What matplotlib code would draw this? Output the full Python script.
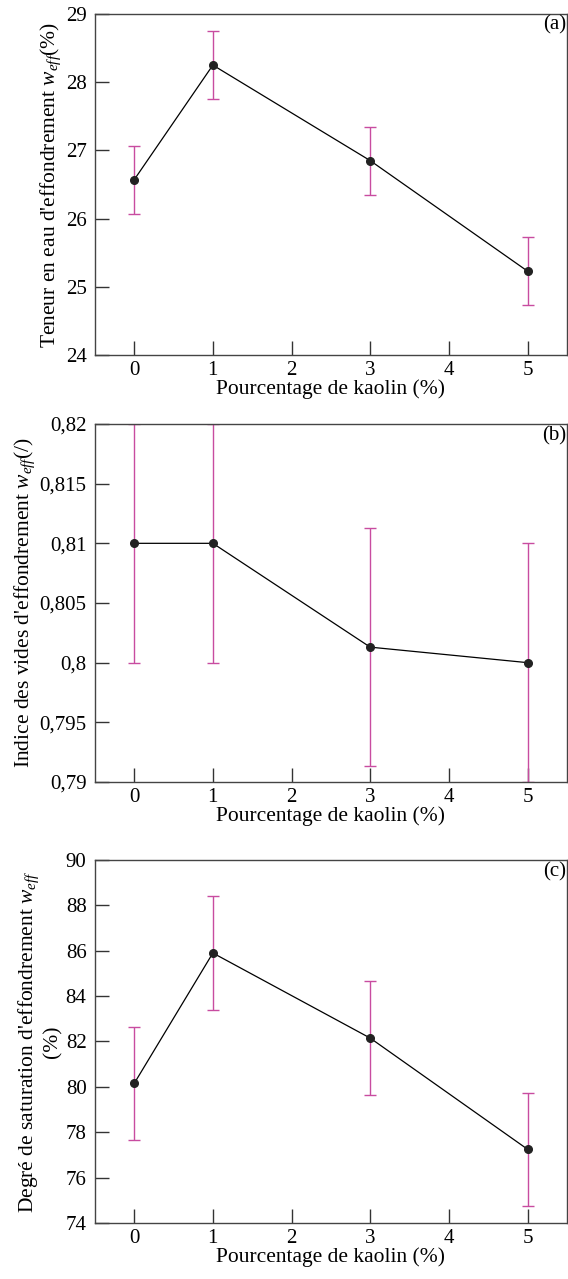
import numpy as np
import matplotlib.pyplot as plt

plt.rcParams['font.family'] = ['Liberation Serif', 'DejaVu Serif']
plt.rcParams['mathtext.fontset'] = 'custom'
plt.rcParams['mathtext.it'] = 'Liberation Serif:italic'
plt.rcParams['mathtext.rm'] = 'Liberation Serif'

kaolin = [0, 1, 3, 5]

# (a) water content
w_vals = [26.57, 28.25, 26.85, 25.23]
w_err = [0.5, 0.5, 0.5, 0.5]

# (b) void ratio
e_vals = [0.810, 0.810, 0.8013, 0.800]
e_err = [0.01, 0.01, 0.01, 0.01]

# (c) degree of saturation
s_vals = [80.15, 85.9, 82.15, 77.25]
s_err = [2.5, 2.5, 2.5, 2.5]

panels = [
    (w_vals, w_err, (24, 29), [24, 25, 26, 27, 28, 29],
     ['24', '25', '26', '27', '28', '29'],
     "Teneur en eau d'effondrement $w_{eff}$(%)", '(a)'),
    (e_vals, e_err, (0.79, 0.82), [0.79, 0.795, 0.80, 0.805, 0.81, 0.815, 0.82],
     ['0,79', '0,795', '0,8', '0,805', '0,81', '0,815', '0,82'],
     "Indice des vides d'effondrement $w_{eff}$(/)", '(b)'),
    (s_vals, s_err, (74, 90), [74, 76, 78, 80, 82, 84, 86, 88, 90],
     ['74', '76', '78', '80', '82', '84', '86', '88', '90'],
     "Degré de saturation d'effondrement $w_{eff}$\n(%)", '(c)'),
]

# axes boxes in figure fraction [left, bottom, width, height]
boxes = [
    [0.167, 0.7224, 0.831, 0.2667],
    [0.167, 0.3886, 0.831, 0.2799],
    [0.167, 0.0438, 0.831, 0.2838],
]

fig = plt.figure(figsize=(5.68, 12.79), dpi=100)

for (vals, err, ylim, yt, ytl, ylab, tag), box in zip(panels, boxes):
    ax = fig.add_axes(box)
    ax.errorbar(kaolin, vals, yerr=err, fmt='none', ecolor='#c84ca0',
                elinewidth=1.0, capsize=4, capthick=1.0, zorder=2)
    ax.plot(kaolin, vals, color='black', linewidth=0.9, marker='o',
            markersize=5.5, markerfacecolor='#222222', markeredgecolor='#222222',
            zorder=3)
    ax.set_xlim(-0.5, 5.5)
    ax.set_ylim(*ylim)
    ax.set_xticks([0, 1, 2, 3, 4, 5])
    ax.set_yticks(yt)
    ax.set_yticklabels(ytl)
    ax.tick_params(direction='in', length=10, width=1.0, labelsize=15,
                   color='#333333', pad=6)
    ax.tick_params(axis='x', pad=4)
    ax.set_xlabel('Pourcentage de kaolin (%)', fontsize=15.5, labelpad=0)
    ax.set_ylabel(ylab, fontsize=15.5, labelpad=2, multialignment='center')
    for s in ax.spines.values():
        s.set_color('#444444')
        s.set_linewidth(1.0)
    ax.text(0.998, 0.995, tag, transform=ax.transAxes, ha='right', va='top',
            fontsize=15)

fig.savefig('out.png', dpi=100)
